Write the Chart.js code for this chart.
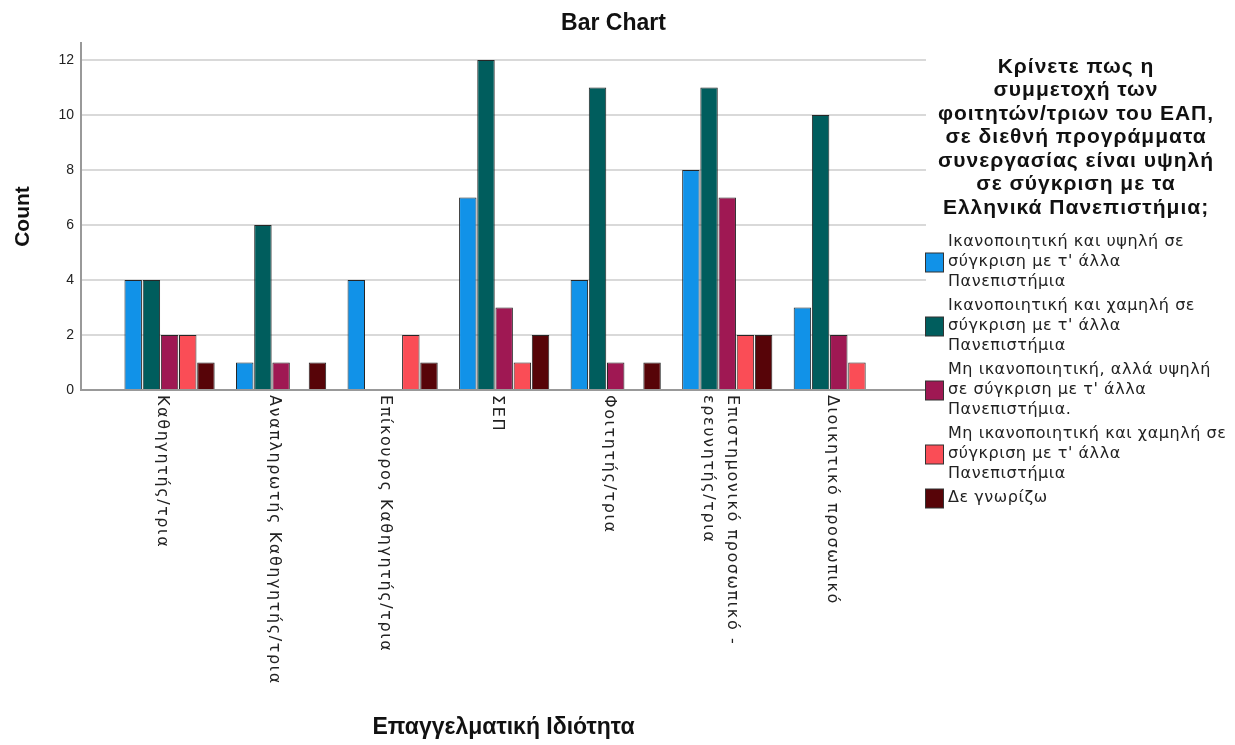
<!DOCTYPE html>
<html><head><meta charset="utf-8">
<script src="https://cdn.jsdelivr.net/npm/chart.js@4/dist/chart.umd.min.js"></script>
<style>html,body{margin:0;padding:0;background:#fff;overflow:hidden}#wrap{position:relative;width:1235px;height:745px}</style>
</head><body><div id="wrap"><canvas id="c" width="1235" height="745"></canvas></div>
<script>
const categories = ['Καθηγητής/τρια', 'Αναπληρωτής Καθηγητής/τρια', 'Επίκουρος Καθηγητής/τρια', 'ΣΕΠ', 'Φοιτητής/τρια', ['Επιστημονικό προσωπικό -', 'ερευνητής/τρια'], 'Διοικητικό προσωπικό'];
const seriesLines = [
  ['Ικανοποιητική και υψηλή σε', 'σύγκριση με τ\' άλλα', 'Πανεπιστήμια'],
  ['Ικανοποιητική και χαμηλή σε', 'σύγκριση με τ\' άλλα', 'Πανεπιστήμια'],
  ['Μη ικανοποιητική, αλλά υψηλή', 'σε σύγκριση με τ\' άλλα', 'Πανεπιστήμια.'],
  ['Μη ικανοποιητική και χαμηλή σε', 'σύγκριση με τ\' άλλα', 'Πανεπιστήμια'],
  ['Δε γνωρίζω']
];
const satisfiedHigh   = [4, 1, 4, 7, 4, 8, 3];
const satisfiedLow    = [4, 6, null, 12, 11, 11, 10];
const unsatisfiedHigh = [2, 1, null, 3, 1, 7, 2];
const unsatisfiedLow  = [2, null, 2, 1, null, 2, 1];
const dontKnow        = [1, 1, 1, 2, 1, 2, null];
const legendTitleLines = ['Κρίνετε πως η', 'συμμετοχή των', 'φοιτητών/τριων του ΕΑΠ,', 'σε διεθνή προγράμματα', 'συνεργασίας είναι υψηλή', 'σε σύγκριση με τα', 'Ελληνικά Πανεπιστήμια;'];
const chartTitle = 'Bar Chart';
const xTitle = 'Επαγγελματική Ιδιότητα';
const yTitle = 'Count';
const colors = ['#1192e8', '#005d5d', '#9f1853', '#fa4d56', '#570408'];

const seriesValues = [satisfiedHigh, satisfiedLow, unsatisfiedHigh, unsatisfiedLow, dontKnow];
const SANS = '"Liberation Sans", Arial, sans-serif';
const LABEL_FONT = '"DejaVu Sans", sans-serif';

const xLabelPlugin = {
  id: 'xLabels',
  afterDraw(chart) {
    const xs = chart.scales.x, ctx = chart.ctx;
    ctx.save();
    ctx.font = '16px ' + LABEL_FONT;
    ctx.letterSpacing = '1.6px';
    ctx.fillStyle = '#222';
    xs.ticks.forEach((t, i) => {
      const lab = categories[i];
      const lines = Array.isArray(lab) ? lab : [lab];
      ctx.save();
      ctx.translate(xs.getPixelForTick(i) - 7, xs.top + 5);
      ctx.rotate(Math.PI / 2);
      ctx.textAlign = 'left';
      ctx.textBaseline = 'middle';
      lines.forEach((ln, j) => ctx.fillText(ln, 0, (j - (lines.length - 1) / 2) * 24));
      ctx.restore();
    });
    ctx.restore();
  }
};

const legendPlugin = {
  id: 'sideLegend',
  afterDraw(chart) {
    const ctx = chart.ctx, ca = chart.chartArea;
    ctx.save();
    ctx.fillStyle = '#111';
    ctx.font = 'bold 21px ' + SANS;
    ctx.letterSpacing = '1px';
    ctx.textAlign = 'center';
    ctx.textBaseline = 'middle';
    let y = ca.top + 24;
    legendTitleLines.forEach(l => { ctx.fillText(l, ca.right + 150, y); y += 23.5; });
    y = ca.top + 199;
    ctx.font = '16px ' + LABEL_FONT;
    ctx.letterSpacing = '0.55px';
    ctx.textAlign = 'left';
    chart.data.datasets.forEach((ds, i) => {
      const lines = seriesLines[i];
      const lh = 20;
      const cy = y + (lines.length - 1) * lh / 2;
      ctx.fillStyle = ds.backgroundColor;
      ctx.strokeStyle = '#333';
      ctx.lineWidth = 1;
      ctx.fillRect(ca.right - 0.5, cy - 9, 18, 19);
      ctx.strokeRect(ca.right - 0.5, cy - 9, 18, 19);
      ctx.fillStyle = '#222';
      lines.forEach((l, j) => ctx.fillText(l, ca.right + 22, y + j * lh));
      y += (lines.length - 1) * lh + 24;
    });
    ctx.restore();
  }
};

new Chart(document.getElementById('c'), {
  type: 'bar',
  data: {
    labels: categories,
    datasets: seriesValues.map((vals, i) => ({
      label: seriesLines[i].join(' '),
      data: vals,
      backgroundColor: colors[i],
      borderColor: '#262626',
      borderWidth: 1,
      categoryPercentage: 0.815,
      barPercentage: 0.96
    }))
  },
  options: {
    responsive: false,
    devicePixelRatio: 1,
    animation: false,
    layout: { padding: { right: 8, left: 0, top: 0, bottom: 0 } },
    plugins: {
      legend: { display: false },
      tooltip: { enabled: false },
      title: {
        display: true, text: chartTitle, color: '#111',
        font: { family: SANS, size: 23, weight: 'bold' },
        padding: { top: 10.2, bottom: 5.2 }
      }
    },
    scales: {
      x: {
        grid: { display: false },
        border: { color: '#999', width: 2 },
        ticks: { display: false },
        title: { display: true, text: xTitle, color: '#111', font: { family: SANS, size: 23, weight: 'bold' }, padding: { top: 0, bottom: 3.2 } },
        afterBuildTicks: s => { s._startValue -= 0.294; s._valueRange += 0.576; },
        afterFit: s => { s.height = 355; }
      },
      y: {
        min: 0, max: 12.62,
        grid: { color: '#d9d9d9', lineWidth: 2, drawTicks: false },
        border: { color: '#999', width: 2 },
        ticks: { stepSize: 2, includeBounds: false, color: '#222', padding: 7, font: { family: SANS, size: 14 } },
        title: { display: true, text: yTitle, color: '#111', font: { family: SANS, size: 21, weight: 'bold' }, padding: { top: 10.4, bottom: 0 } },
        afterFit: s => { s.width = 81; }
      },
      side: {
        position: 'right', display: true,
        grid: { display: false }, border: { display: false }, ticks: { display: false },
        afterFit: s => { s.width = 301; }
      }
    }
  },
  plugins: [xLabelPlugin, legendPlugin]
});
</script></body></html>
